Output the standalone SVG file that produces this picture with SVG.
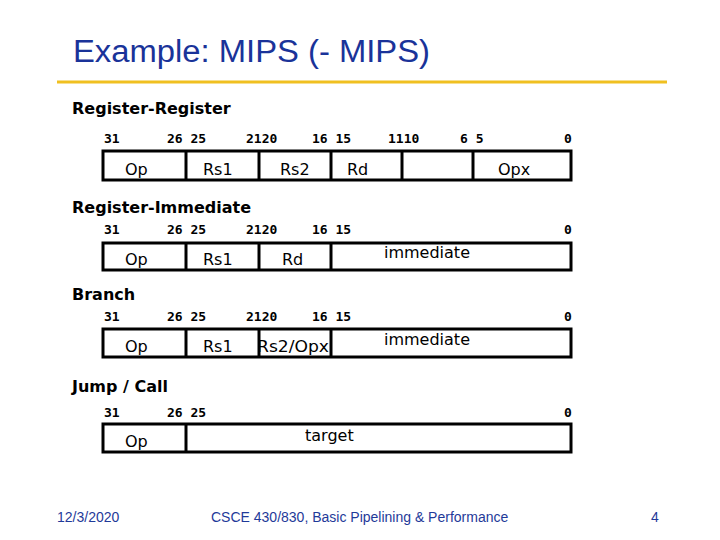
<svg xmlns="http://www.w3.org/2000/svg" width="720" height="540" viewBox="0 0 720 540">
<style>
.t{font-family:"Liberation Sans",Arial,sans-serif}
.h{font-family:"DejaVu Sans",sans-serif;font-weight:bold;font-size:16px}
.b{font-family:"DejaVu Sans Mono","DejaVu Sans",monospace;font-size:13px;font-weight:bold}
.f{font-family:"DejaVu Sans",sans-serif;font-size:16px}
.box{fill:#fff;stroke:#000;stroke-width:3}
.d{stroke:#000;stroke-width:3}
.ft{font-family:"Liberation Sans",Arial,sans-serif;font-size:14px;fill:#1F3A99}
</style>
<rect width="720" height="540" fill="#fff"/>
<text class="t" x="73" y="62" font-size="31" fill="#1A3399" textLength="357" lengthAdjust="spacingAndGlyphs">Example: MIPS (- MIPS)</text>
<line x1="57" y1="82" x2="667" y2="82" stroke="#F0C020" stroke-width="3"/>
<g id="rr">
<text class="h" x="72" y="114">Register-Register</text>
<g class="b"><text x="104" y="143">31</text><text x="167" y="143">26 25</text><text x="246" y="143">2120</text><text x="312" y="143">16 15</text><text x="388" y="143">1110</text><text x="460" y="143">6 5</text><text x="564" y="143">0</text></g>
<rect class="box" x="103" y="151" width="468" height="29"/>
<g class="d"><line x1="186" y1="151" x2="186" y2="180"/><line x1="259" y1="151" x2="259" y2="180"/><line x1="331" y1="151" x2="331" y2="180"/><line x1="402" y1="151" x2="402" y2="180"/><line x1="473" y1="151" x2="473" y2="180"/></g>
<g class="f"><text x="125" y="175">Op</text><text x="203" y="175">Rs1</text><text x="280" y="175">Rs2</text><text x="347" y="175">Rd</text><text x="498" y="175">Opx</text></g>
</g>
<g id="ri">
<text class="h" x="72" y="213">Register-Immediate</text>
<g class="b"><text x="104" y="234">31</text><text x="167" y="234">26 25</text><text x="246" y="234">2120</text><text x="312" y="234">16 15</text><text x="564" y="234">0</text></g>
<rect class="box" x="103" y="243" width="468" height="27"/>
<g class="d"><line x1="186" y1="243" x2="186" y2="270"/><line x1="259" y1="243" x2="259" y2="270"/><line x1="331" y1="243" x2="331" y2="270"/></g>
<g class="f"><text x="125" y="265">Op</text><text x="203" y="265">Rs1</text><text x="282" y="265">Rd</text><text x="384" y="258">immediate</text></g>
</g>
<g id="br">
<text class="h" x="72" y="300">Branch</text>
<g class="b"><text x="104" y="321">31</text><text x="167" y="321">26 25</text><text x="246" y="321">2120</text><text x="312" y="321">16 15</text><text x="564" y="321">0</text></g>
<rect class="box" x="103" y="329" width="468" height="28"/>
<g class="d"><line x1="186" y1="329" x2="186" y2="357"/><line x1="259" y1="329" x2="259" y2="357"/><line x1="331" y1="329" x2="331" y2="357"/></g>
<g class="f"><text x="125" y="352">Op</text><text x="203" y="352">Rs1</text><text x="257" y="352" textLength="72" lengthAdjust="spacingAndGlyphs">Rs2/Opx</text><text x="384" y="345">immediate</text></g>
</g>
<g id="jc">
<text class="h" x="72" y="392">Jump / Call</text>
<g class="b"><text x="104" y="417">31</text><text x="167" y="417">26 25</text><text x="564" y="417">0</text></g>
<rect class="box" x="103" y="424" width="468" height="28"/>
<line class="d" x1="186" y1="424" x2="186" y2="452"/>
<g class="f"><text x="125" y="447">Op</text><text x="305" y="441">target</text></g>
</g>
<g id="connectors"/>
<text class="ft" x="57" y="522">12/3/2020</text>
<text class="ft" x="211" y="522">CSCE 430/830, Basic Pipelining &amp; Performance</text>
<text class="ft" x="651" y="522">4</text>
</svg>
